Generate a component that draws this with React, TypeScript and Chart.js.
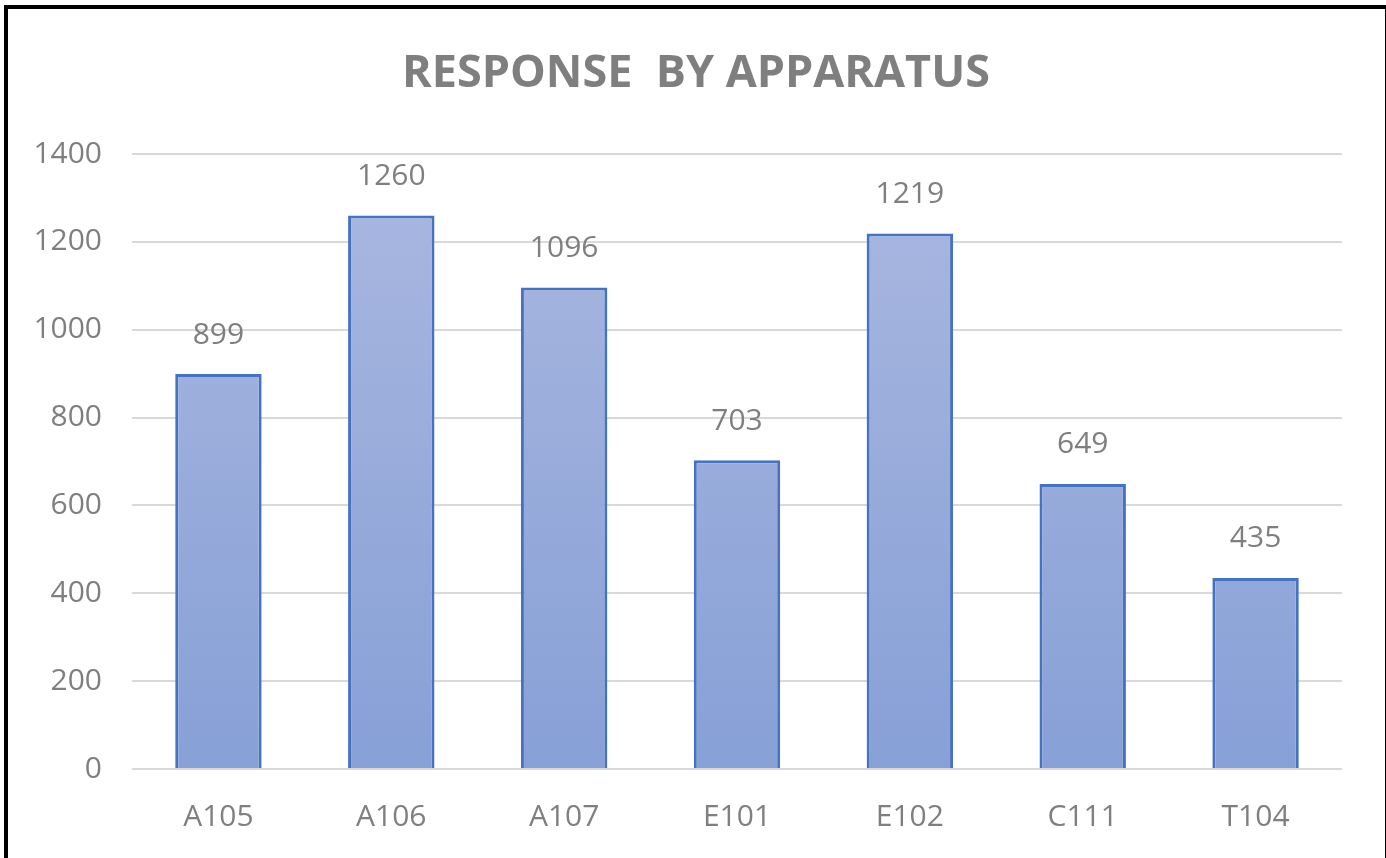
import React, { useEffect, useRef } from "react";
import { Chart, registerables } from "chart.js";

Chart.register(...registerables);

const categories = ["A105", "A106", "A107", "E101", "E102", "C111", "T104"];
const responses = [899, 1260, 1096, 703, 1219, 649, 435];
const chartTitle = "RESPONSE  BY APPARATUS";
const yMax = 1400;
const yStep = 200;

const FONT = "'Open Sans', 'Liberation Sans', sans-serif";
const GRAY = "#7F7F7F";

const valueLabels = {
  id: "valueLabels",
  afterDatasetsDraw(chart: any) {
    const ctx = chart.ctx;
    const meta = chart.getDatasetMeta(0);
    ctx.save();
    ctx.font = `30px ${FONT}`;
    ctx.fillStyle = GRAY;
    ctx.textAlign = "center";
    ctx.textBaseline = "middle";
    meta.data.forEach((bar: any, i: number) => {
      ctx.fillText(String(chart.data.datasets[0].data[i]), bar.x, bar.y - 39);
    });
    ctx.restore();
  },
};

const titleDraw = {
  id: "titleDraw",
  afterDraw(chart: any) {
    const ctx = chart.ctx;
    ctx.save();
    ctx.font = `bold 45px ${FONT}`;
    ctx.fillStyle = GRAY;
    ctx.textAlign = "center";
    ctx.textBaseline = "middle";
    ctx.fillText(chartTitle, 696, 74);
    ctx.restore();
  },
};

export default function App() {
  const ref = useRef<HTMLCanvasElement | null>(null);
  useEffect(() => {
    if (!ref.current) return;
    const chart = new Chart(ref.current, {
      type: "bar",
      data: {
        labels: categories,
        datasets: [
          {
            data: responses,
            backgroundColor: (c: any) => {
              const ch = c.chart;
              const area = ch.chartArea;
              if (!area) return "#98ACDB";
              const el = c.element;
              const top = el && typeof el.y === "number" ? el.y : area.top;
              const bottom = area.bottom;
              if (!(bottom > top)) return "#98ACDB";
              const g = ch.ctx.createLinearGradient(0, top, 0, bottom);
              g.addColorStop(0, "#AAB8E0");
              g.addColorStop(1, "#87A0D6");
              return g;
            },
            borderColor: "#4472C4",
            borderWidth: 3,
            borderSkipped: "bottom",
            barPercentage: 0.5,
            categoryPercentage: 1,
          },
        ],
      },
      options: {
        animation: false,
        responsive: false,
        maintainAspectRatio: false,
        layout: { padding: { left: 0, right: 44, top: 0, bottom: 0 } },
        plugins: {
          legend: { display: false },
          tooltip: { enabled: false },
          title: {
            display: true,
            text: chartTitle,
            color: "rgba(0,0,0,0)",
            font: { family: FONT, size: 40, weight: "bold" },
            padding: { top: 51, bottom: 55 },
          },
        },
        scales: {
          x: {
            grid: { display: false, drawTicks: false },
            border: { display: false },
            ticks: {
              color: GRAY,
              font: { family: FONT, size: 30 },
              padding: 30,
            },
            afterFit: (s: any) => {
              s.height = 89;
            },
          },
          y: {
            min: 0,
            max: yMax,
            grid: { color: "#D9D9D9", lineWidth: 2, drawTicks: false },
            border: { display: false },
            ticks: {
              stepSize: yStep,
              color: GRAY,
              font: { family: FONT, size: 30 },
              padding: 30,
              callback: (v: any) => String(v),
            },
            afterFit: (s: any) => {
              s.width = 132;
            },
          },
        },
      },
      plugins: [valueLabels, titleDraw],
    });
    return () => chart.destroy();
  }, []);

  return (
    <div
      style={{
        position: "fixed",
        left: 0,
        top: 0,
        width: 1386,
        height: 858,
        background: "#fff",
      }}
    >
      <canvas
        ref={ref}
        width={1386}
        height={858}
        style={{ position: "absolute", left: 0, top: 0, width: 1386, height: 858 }}
      />
      <div
        style={{
          position: "absolute",
          left: 4,
          top: 5,
          width: 1377,
          height: 860,
          borderLeft: "4px solid #000",
          borderTop: "4px solid #000",
          borderRight: "4px solid #000",
          pointerEvents: "none",
        }}
      />
    </div>
  );
}
